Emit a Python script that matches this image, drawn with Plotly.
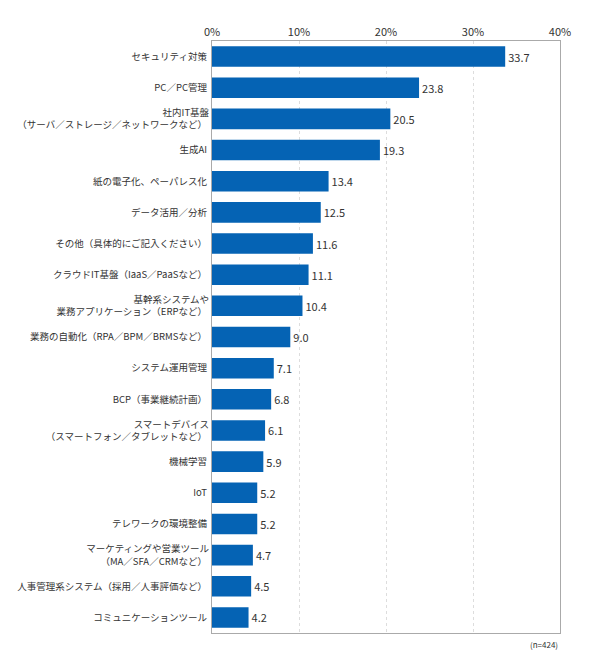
import plotly.graph_objects as go

categories = ["セキュリティ対策", "PC／PC管理", "社内IT基盤<br>（サーバ／ストレージ／ネットワークなど）", "生成AI",
              "紙の電子化、ペーパレス化", "データ活用／分析", "その他（具体的にご記入ください）",
              "クラウドIT基盤（IaaS／PaaSなど）", "基幹系システムや<br>業務アプリケーション（ERPなど）",
              "業務の自動化（RPA／BPM／BRMSなど）", "システム運用管理", "BCP（事業継続計画）",
              "スマートデバイス<br>（スマートフォン／タブレットなど）", "機械学習", "IoT", "テレワークの環境整備",
              "マーケティングや営業ツール<br>（MA／SFA／CRMなど）", "人事管理系システム（採用／人事評価など）",
              "コミュニケーションツール"]
values = [33.7, 23.8, 20.5, 19.3, 13.4, 12.5, 11.6, 11.1, 10.4, 9.0, 7.1, 6.8, 6.1, 5.9, 5.2, 5.2, 4.7, 4.5, 4.2]
tick_vals = [0, 10, 20, 30, 40]
tick_text = ["0%", "10%", "20%", "30%", "40%"]

fig = go.Figure(go.Bar(
    x=values, y=categories, orientation="h", width=0.66,
    marker=dict(color="#0563b4", line=dict(width=0)),
    text=[f"{v:.1f}" for v in values], textposition="outside", cliponaxis=False,
    textfont=dict(size=11, color="#333"),
))
fig.update_layout(
    width=590, height=655, plot_bgcolor="white", paper_bgcolor="white",
    margin=dict(l=204, r=38, t=33, b=30), showlegend=False,
    font=dict(family="Noto Sans CJK JP", size=9, color="#333"),
    xaxis=dict(range=[0, 40], side="top", tickvals=tick_vals, ticktext=tick_text, automargin=False,
               showgrid=True, gridcolor="#ddd", griddash="dot", showline=True, linecolor="#aaa",
               mirror=True, ticks="", zeroline=False, tickfont=dict(size=11)),
    yaxis=dict(autorange="reversed", showline=True, linecolor="#aaa", mirror=True, ticks="",
               automargin=False, ticksuffix=" ", tickfont=dict(size=9.5)),
    annotations=[dict(text="(n=424)", x=1, y=0, xref="paper", yref="paper", xanchor="right",
                      yanchor="top", yshift=-4, showarrow=False, font=dict(size=8, color="#333"))],
)
fig.write_html("out.html")
